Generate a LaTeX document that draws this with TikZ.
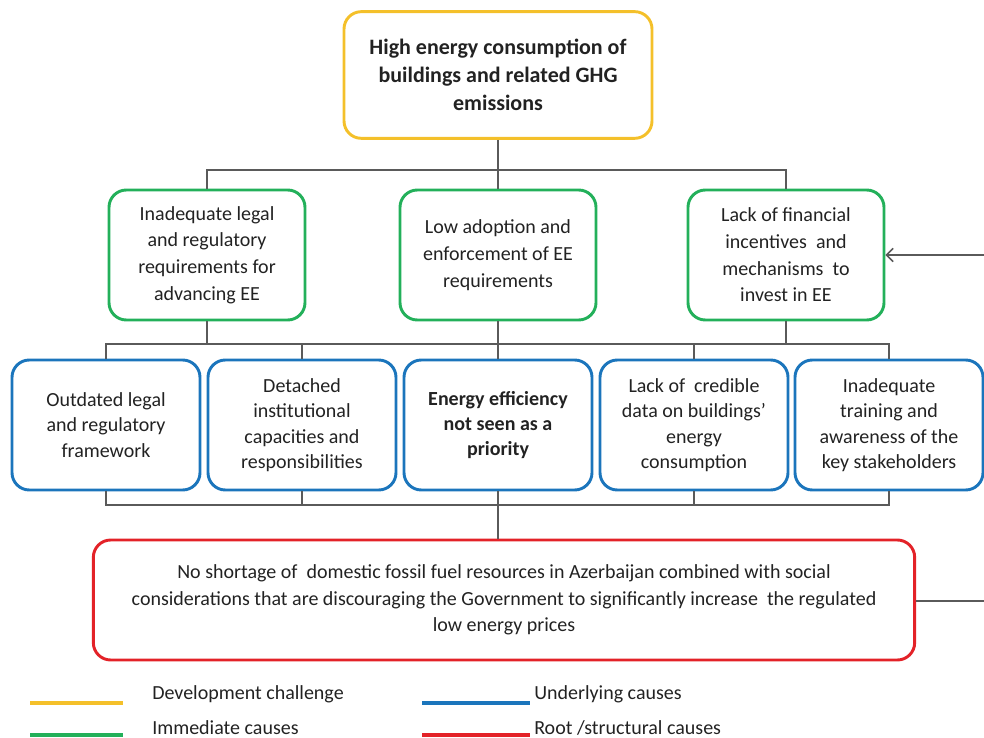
\documentclass[tikz,border=0pt]{standalone}
\usepackage{fontspec}
\setmainfont{Carlito}
\usetikzlibrary{arrows.meta}
\definecolor{cyel}{HTML}{F4C02A}
\definecolor{cgrn}{HTML}{23B05A}
\definecolor{cblu}{HTML}{1B75BC}
\definecolor{cred}{HTML}{E32228}
\definecolor{ctxt}{HTML}{222222}
\definecolor{cline}{HTML}{5A5A5A}
\begin{document}
\begin{tikzpicture}[x=0.75pt,y=-0.75pt,
 box/.style={draw, line width=2.2pt, rounded corners=13pt, align=center, inner sep=0pt, text=ctxt},
 ybox/.style={box, draw=cyel, minimum width=231pt, minimum height=95pt, font=\fontsize{16.5}{21}\selectfont\bfseries},
 gbox/.style={box, draw=cgrn, minimum width=147pt, minimum height=97.5pt, font=\fontsize{15}{20}\selectfont},
 bbox/.style={box, draw=cblu, minimum width=141pt, minimum height=97.5pt, font=\fontsize{15}{19}\selectfont},
 rbox/.style={box, draw=cred, minimum width=616pt, minimum height=90pt, font=\fontsize{15}{20}\selectfont},
 conn/.style={draw=cline, line width=1.1pt},
 leg/.style={line width=3pt},
 legtext/.style={anchor=west, text=ctxt, inner sep=0pt, font=\fontsize{15}{18}\selectfont}]
\useasboundingbox (0,0) rectangle (984,738);

% boxes
\node[ybox] (top) at (498,75) {High energy consumption of\\buildings and related GHG\\emissions};

\node[gbox] (g1) at (207,255) {Inadequate legal\\and regulatory\\requirements for\\advancing EE};
\node[gbox] (g2) at (498,255) {Low adoption and\\enforcement of EE\\requirements};
\node[gbox] (g3) at (786,255) {Lack of financial\\incentives\ \ and\\mechanisms\ \ to\\invest in EE};

\node[bbox] (b1) at (106,425) {Outdated legal\\and regulatory\\framework};
\node[bbox] (b2) at (302,425) {Detached\\institutional\\capacities and\\responsibilities};
\node[bbox] (b3) at (498,425) {\bfseries Energy efficiency\\\bfseries not seen as a\\\bfseries priority};
\node[bbox] (b4) at (694,425) {Lack of\ \ credible\\data on buildings'\\energy\\consumption};
\node[bbox] (b5) at (889,425) {Inadequate\\training and\\awareness of the\\key stakeholders};

\node[rbox] (red) at (504,600) {No shortage of\ \ domestic fossil fuel resources in Azerbaijan combined with social\\considerations that are discouraging the Government to significantly increase\ \ the regulated\\low energy prices};

% connectors
\coordinate (busA) at (498,170);
\coordinate (busB) at (498,344);
\coordinate (busC) at (498,505);
\coordinate (rightEnd) at (984,601);
\coordinate (arrowStart) at (984,255);

\draw[conn] (top.south) -- (g2.north);
\draw[conn] (g1.north) |- (busA) -| (g3.north);

\draw[conn] (g2.south) -- (b3.north);
\draw[conn] (b1.north) |- (busB) -| (b5.north);
\draw[conn] (b2.north) -- (b2.north |- busB);
\draw[conn] (b4.north) -- (b4.north |- busB);
\draw[conn] (g1.south) -- (g1.south |- busB);
\draw[conn] (g3.south) -- (g3.south |- busB);

\draw[conn] (b1.south) |- (busC) -| (b5.south);
\draw[conn] (b2.south) -- (b2.south |- busC);
\draw[conn] (b4.south) -- (b4.south |- busC);
\draw[conn] (b3.south) -- (b3.south |- red.north);

\draw[conn] (red.east |- rightEnd) -- (rightEnd);
\draw[conn, -{Straight Barb[length=5pt,width=10pt]}] (arrowStart) -- (g3.east |- arrowStart);

% legend
\coordinate (ly1a) at (30,703); \coordinate (ly1b) at (123,703);
\coordinate (lg1a) at (30,735); \coordinate (lg1b) at (123,735);
\coordinate (lb1a) at (422,703); \coordinate (lb1b) at (530,703);
\coordinate (lr1a) at (422,735); \coordinate (lr1b) at (530,735);
\draw[leg, cyel] (ly1a) -- (ly1b);
\draw[leg, cgrn] (lg1a) -- (lg1b);
\draw[leg, cblu] (lb1a) -- (lb1b);
\draw[leg, cred] (lr1a) -- (lr1b);
\node[legtext] (t1) at (152,694) {Development challenge};
\node[legtext] (t2) at (152,728) {Immediate causes};
\node[legtext] (t3) at (534,694) {Underlying causes};
\node[legtext] (t4) at (534,728) {Root /structural causes};
\end{tikzpicture}
\end{document}
